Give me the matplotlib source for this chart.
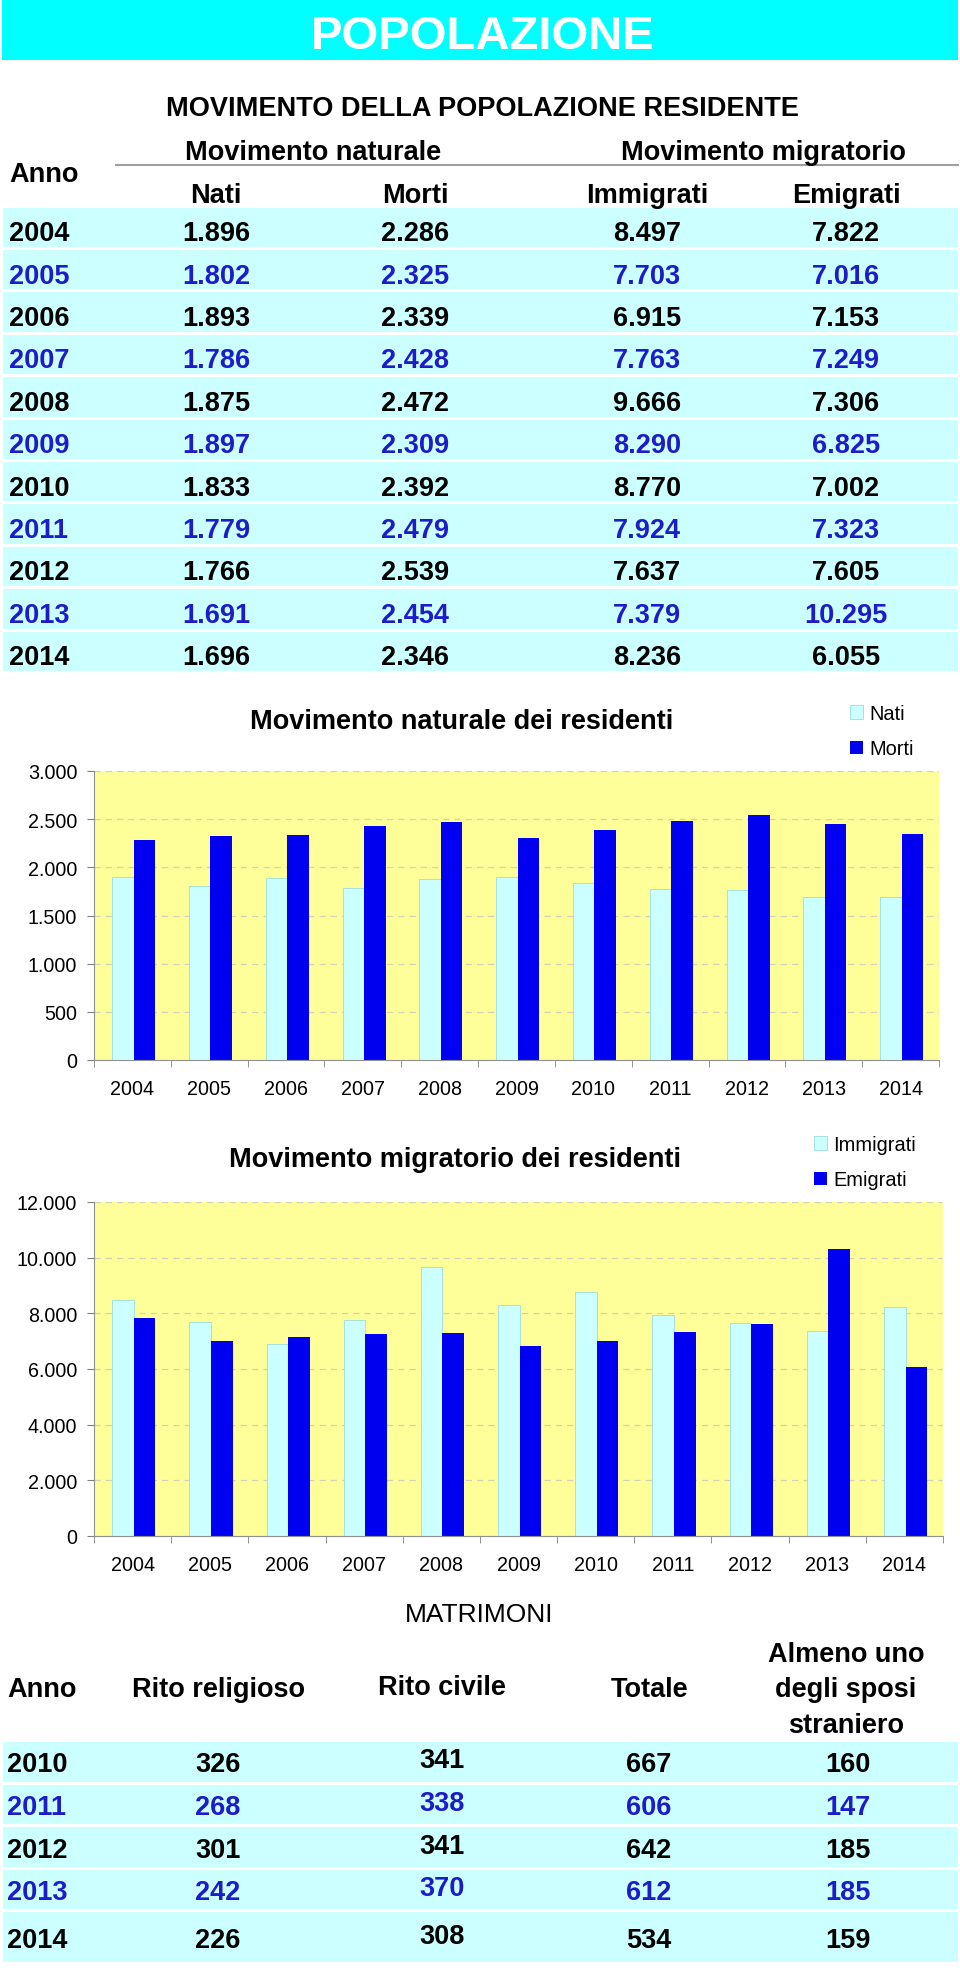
import numpy as np
import matplotlib
matplotlib.use('Agg')
import matplotlib.pyplot as plt
from matplotlib.patches import Rectangle
from matplotlib.ticker import FuncFormatter

plt.rcParams['font.family'] = ['Liberation Sans', 'DejaVu Sans']

# movimento della popolazione residente
anni = [2004, 2005, 2006, 2007, 2008, 2009, 2010, 2011, 2012, 2013, 2014]
nati = [1896, 1802, 1893, 1786, 1875, 1897, 1833, 1779, 1766, 1691, 1696]
morti = [2286, 2325, 2339, 2428, 2472, 2309, 2392, 2479, 2539, 2454, 2346]
immigrati = [8497, 7703, 6915, 7763, 9666, 8290, 8770, 7924, 7637, 7379, 8236]
emigrati = [7822, 7016, 7153, 7249, 7306, 6825, 7002, 7323, 7605, 10295, 6055]

# matrimoni
anni_matr = [2010, 2011, 2012, 2013, 2014]
rito_religioso = [326, 268, 301, 242, 226]
rito_civile = [341, 338, 341, 370, 308]
totale = [667, 606, 642, 612, 534]
sposo_straniero = [160, 147, 185, 185, 159]

CIANO = '#ccffff'
BLU = '#0000f0'
BLU_TESTO = '#1c1cc8'

W, H = 960, 1974
fig = plt.figure(figsize=(9.6, 19.74), dpi=100)
bg = fig.add_axes([0, 0, 1, 1])
bg.set_xlim(0, W)
bg.set_ylim(H, 0)
bg.axis('off')


def fmt(v):
    return f"{int(v):,}".replace(",", ".")


def txt(x, y, s, size=19.5, ha='center', color='black', weight='bold'):
    # y = middle of the capitals, pixels from top
    bg.text(x, y + 0.497 * size, s, fontsize=size, ha=ha, va='baseline',
            color=color, fontweight=weight)


# titolo
bg.add_patch(Rectangle((2, 0), 956, 61, color='#00ffff', lw=0))
txt(483, 32, 'POPOLAZIONE', size=34, color='white')

# tabella movimento
txt(482, 106, 'MOVIMENTO DELLA POPOLAZIONE RESIDENTE')
txt(9, 172, 'Anno', ha='left')
txt(313, 150, 'Movimento naturale')
txt(763, 150, 'Movimento migratorio')
bg.plot([116, 958], [166, 166], color='#a0a0a0', lw=1.5)
col_x = [216, 415, 647, 846]
for x, s in zip(col_x, ['Nati', 'Morti', 'Immigrati', 'Emigrati']):
    txt(x, 193, s)
for i, anno in enumerate(anni):
    top = 208.5 + 42.4 * i
    bg.add_patch(Rectangle((3, top), 955, 39.5, color=CIANO, lw=0))
    c = BLU_TESTO if i % 2 else 'black'
    yc = top + 23
    txt(9, yc, str(anno), ha='left', color=c)
    for x, v in zip(col_x, (nati[i], morti[i], immigrati[i], emigrati[i])):
        txt(x, yc, fmt(v), color=c)


def grafico(rect, s1, s2, nomi, ymax, step, titolo, tpos, lpos):
    l, t, r, b = rect
    ax = fig.add_axes([l / W, 1 - b / H, (r - l) / W, (b - t) / H])
    x = np.arange(len(anni))
    ax.bar(x - 0.125, s1, 0.28, color=CIANO, edgecolor='#99dede', lw=0.6, label=nomi[0])
    ax.bar(x + 0.155, s2, 0.28, color=BLU, lw=0, label=nomi[1])
    ax.set_xlim(-0.5, len(anni) - 0.5)
    ax.set_ylim(0, ymax)
    ax.set_facecolor('#ffff99')
    ax.set_yticks(np.arange(0, ymax + 1, step))
    ax.yaxis.set_major_formatter(FuncFormatter(lambda v, p: fmt(v)))
    ax.set_xticks(x)
    ax.set_xticklabels(anni)
    ax.set_xticks(np.arange(-0.5, len(anni), 1), minor=True)
    ax.tick_params(axis='x', which='major', length=0, pad=14, labelsize=14.2)
    ax.tick_params(axis='x', which='minor', length=5, color='#808080')
    ax.tick_params(axis='y', length=5, color='#808080', pad=7, labelsize=14.2)
    for sp in ['top', 'right']:
        ax.spines[sp].set_visible(False)
    for sp in ['left', 'bottom']:
        ax.spines[sp].set_color('#909090')
    ax.yaxis.grid(True, ls=(0, (5, 4)), color='#d2d2b4', lw=0.9)
    ax.set_axisbelow(True)
    txt(tpos[0], tpos[1], titolo)
    ax.legend(loc='upper left', bbox_to_anchor=(lpos[0] / W, 1 - lpos[1] / H),
              bbox_transform=fig.transFigure, frameon=False, fontsize=14.4,
              handlelength=0.65, handleheight=0.65, handletextpad=0.3,
              labelspacing=0.82, borderpad=0, borderaxespad=0)
    return ax


grafico((94, 772, 939, 1061), nati, morti, ['Nati', 'Morti'], 3000, 500,
        'Movimento naturale dei residenti', (462, 719), (850, 705))
grafico((94, 1203, 943, 1537), immigrati, emigrati, ['Immigrati', 'Emigrati'], 12000, 2000,
        'Movimento migratorio dei residenti', (455, 1157), (814, 1136))

# tabella matrimoni
txt(479, 1613, 'MATRIMONI', size=19, weight='normal')
txt(7, 1687, 'Anno', ha='left')
txt(218, 1687, 'Rito religioso')
txt(442, 1685, 'Rito civile')
txt(650, 1687, 'Totale')
txt(846, 1652, 'Almeno uno')
txt(846, 1687, 'degli sposi')
txt(846, 1723, 'straniero')
for i, anno in enumerate(anni_matr):
    top = 1743 + 42.6 * i
    alto = 50 if i == len(anni_matr) - 1 else 39.5
    bg.add_patch(Rectangle((3, top), 955, alto, color=CIANO, lw=0))
    c = BLU_TESTO if i % 2 else 'black'
    yc = top + alto / 2
    txt(7, yc, str(anno), ha='left', color=c)
    txt(218, yc, str(rito_religioso[i]), color=c)
    txt(442, yc - 4, str(rito_civile[i]), color=c)
    txt(649, yc, str(totale[i]), color=c)
    txt(848, yc, str(sposo_straniero[i]), color=c)

fig.savefig('out.png', dpi=100)
